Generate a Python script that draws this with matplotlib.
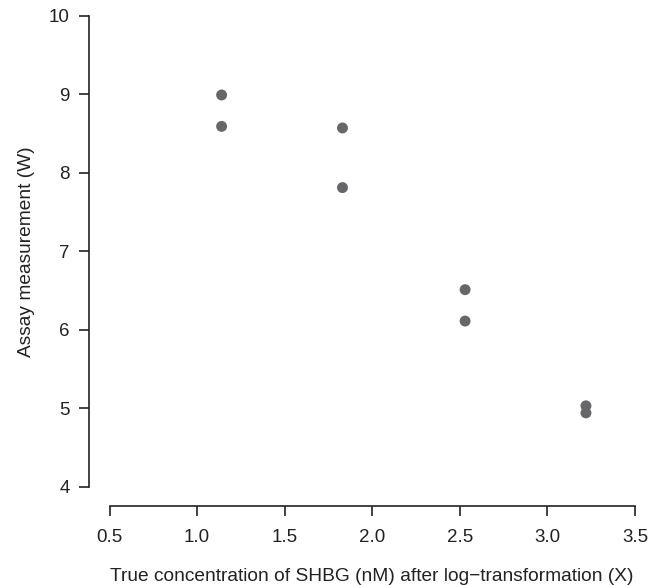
import matplotlib
matplotlib.use("Agg")
import matplotlib.pyplot as plt

# log-transformed SHBG concentration and paired assay readings
conc_log = [1.14, 1.14, 1.83, 1.83, 2.53, 2.53, 3.22, 3.22]
assay = [8.99, 8.59, 8.57, 7.81, 6.51, 6.11, 5.03, 4.94]

x_ticks = [0.5, 1.0, 1.5, 2.0, 2.5, 3.0, 3.5]
y_ticks = [4, 5, 6, 7, 8, 9, 10]

plt.rcParams["font.family"] = ["Liberation Sans", "DejaVu Sans"]

W, H = 650, 585
fig = plt.figure(figsize=(W / 100, H / 100), dpi=100)
# axes box in pixels: left spine at x=89, bottom spine at y=505.5
left_px, right_px, top_px, bottom_px = 89.0, 642.0, 11.0, 505.5
ax = fig.add_axes([left_px / W, (H - bottom_px) / H,
                   (right_px - left_px) / W, (bottom_px - top_px) / H])

ax.scatter(conc_log, assay, s=62, color="#67676b", edgecolors="none", zorder=3)

x0_px, x1_px = 109.5, 635.0   # pixel columns of x = 0.5 and x = 3.5
y4_px, y10_px = 486.7, 15.7   # pixel rows of y = 4 and y = 10
x_per_px = 3.0 / (x1_px - x0_px)
y_per_px = 6.0 / (y4_px - y10_px)
ax.set_xlim(0.5 - (x0_px - left_px) * x_per_px, 3.5 + (right_px - x1_px) * x_per_px)
ax.set_ylim(4 - (bottom_px - y4_px) * y_per_px, 10 + (y10_px - top_px) * y_per_px)

for side in ("top", "right"):
    ax.spines[side].set_visible(False)
ax.spines["left"].set_bounds(4, 10)
ax.spines["bottom"].set_bounds(0.5, 3.5)
for side in ("left", "bottom"):
    ax.spines[side].set_linewidth(1.2)
    ax.spines[side].set_color("#222222")

ax.set_xticks(x_ticks)
ax.set_xticklabels([f"{v:.1f}" for v in x_ticks])
ax.set_yticks(y_ticks)
ax.set_yticklabels([str(v) for v in y_ticks])
ax.tick_params(direction="out", length=7.2, width=1.2, color="#222222",
               labelsize=13.5, labelcolor="#222222")
ax.tick_params(axis="x", pad=9.5)
ax.tick_params(axis="y", pad=6.5)

ax.set_xlabel("True concentration of SHBG (nM) after log\u2212transformation (X)",
              fontsize=13.8, color="#222222", labelpad=16)
ax.set_ylabel("Assay measurement (W)", fontsize=13.8, color="#222222", labelpad=10)
# centre the titles on the drawn axis lines rather than the axes box
ax.xaxis.label.set_x(((x0_px + x1_px) / 2 - left_px) / (right_px - left_px))
ax.yaxis.label.set_y((bottom_px - (y4_px + y10_px) / 2) / (bottom_px - top_px))

fig.savefig("out.png", dpi=100)
